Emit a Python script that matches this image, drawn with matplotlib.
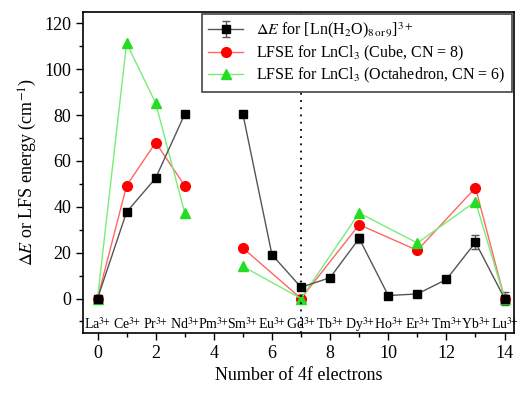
import numpy as np
import matplotlib
matplotlib.use("Agg")
import matplotlib.pyplot as plt
from matplotlib.ticker import MultipleLocator

plt.rcParams["font.family"] = ["Liberation Serif", "DejaVu Serif"]
plt.rcParams["mathtext.fontset"] = "stix"

nan = np.nan
ions = ["La", "Ce", "Pr", "Nd", "Pm", "Sm", "Eu", "Gd", "Tb", "Dy", "Ho", "Er", "Tm", "Yb", "Lu"]
n_4f = np.arange(15)

# dE for [Ln(H2O)8or9]3+ (no value for Pm)
dE = [0, 37.7, 52.5, 80.4, nan, 80.4, 19.1, 4.9, 9.1, 26.2, 1.3, 2.0, 8.3, 24.5, 0]
dE_err = [0, 0, 0, 0, 0, 0, 0, 0.8, 1.0, 2.0, 0, 0, 0, 3.0, 3.0]

# LFSE values
lfse_x = [0, 1, 2, 3, 4, 5, 7, 9, 11, 13, 14]
lfse_cube = [0, 49.2, 68.0, 49.2, nan, 22.0, 0, 32.2, 21.0, 48.3, 0]
lfse_oct = [0, 111.3, 85.2, 37.3, nan, 14.0, 0, 37.3, 24.2, 42.3, 0]

fig = plt.figure(figsize=(5.17, 3.94), dpi=100)
ax = fig.add_axes([0.1605, 0.155, 0.834, 0.815])

eb = ax.errorbar(n_4f, dE, yerr=dE_err, color="#555555", lw=1.0, marker="s", ms=6,
                 mfc="black", mec="black", ecolor="#555555", elinewidth=1.0, capsize=3)
l1, = ax.plot(lfse_x, lfse_cube, color="#ff6666", lw=1.0, marker="o", ms=7,
              mfc="#ff0000", mec="#ff0000")
l2, = ax.plot(lfse_x, lfse_oct, color="#77ee77", lw=1.0, marker="^", ms=7,
              mfc="#22dd22", mec="#22dd22")

ax.axvline(7, color="black", ls=(0, (1, 3)), lw=1.3)

for x, name in zip(n_4f, ions):
    ax.text(x, -13.3, name + r"$^{3\!\!+}$", ha="center", va="baseline", fontsize=10)

ax.set_xlim(-0.5, 14.33)
ax.set_ylim(-15, 125)
ax.xaxis.set_major_locator(MultipleLocator(2))
ax.xaxis.set_minor_locator(MultipleLocator(1))
ax.yaxis.set_major_locator(MultipleLocator(20))
ax.yaxis.set_minor_locator(MultipleLocator(10))
ax.tick_params(which="both", direction="out", labelsize=13, width=1.0)
ax.tick_params(which="major", length=5)
ax.tick_params(which="minor", length=3)
for s in ax.spines.values():
    s.set_linewidth(1.2)

ax.set_xlabel("Number of 4f electrons", fontsize=13)
ax.set_ylabel(r"$\Delta\mathit{E}$ or LFS energy (cm$^{-1}$)", fontsize=13)

labels = [r"$\Delta\mathit{E}$ for [Ln(H$_2$O)$_{8\,\mathrm{or}\,9}$]$^{3+}$",
          r"LFSE for LnCl$_3$ (Cube, CN = 8)",
          r"LFSE for LnCl$_3$ (Octahedron, CN = 6)"]
leg = ax.legend([eb, l1, l2], labels, loc="upper right", fontsize=11.5, frameon=True,
                fancybox=False, edgecolor="#444444", framealpha=1, borderaxespad=0.15,
                handlelength=2.2, labelspacing=0.2, borderpad=0.4)
leg.get_frame().set_linewidth(1.2)

fig.savefig("out.png", dpi=100)
